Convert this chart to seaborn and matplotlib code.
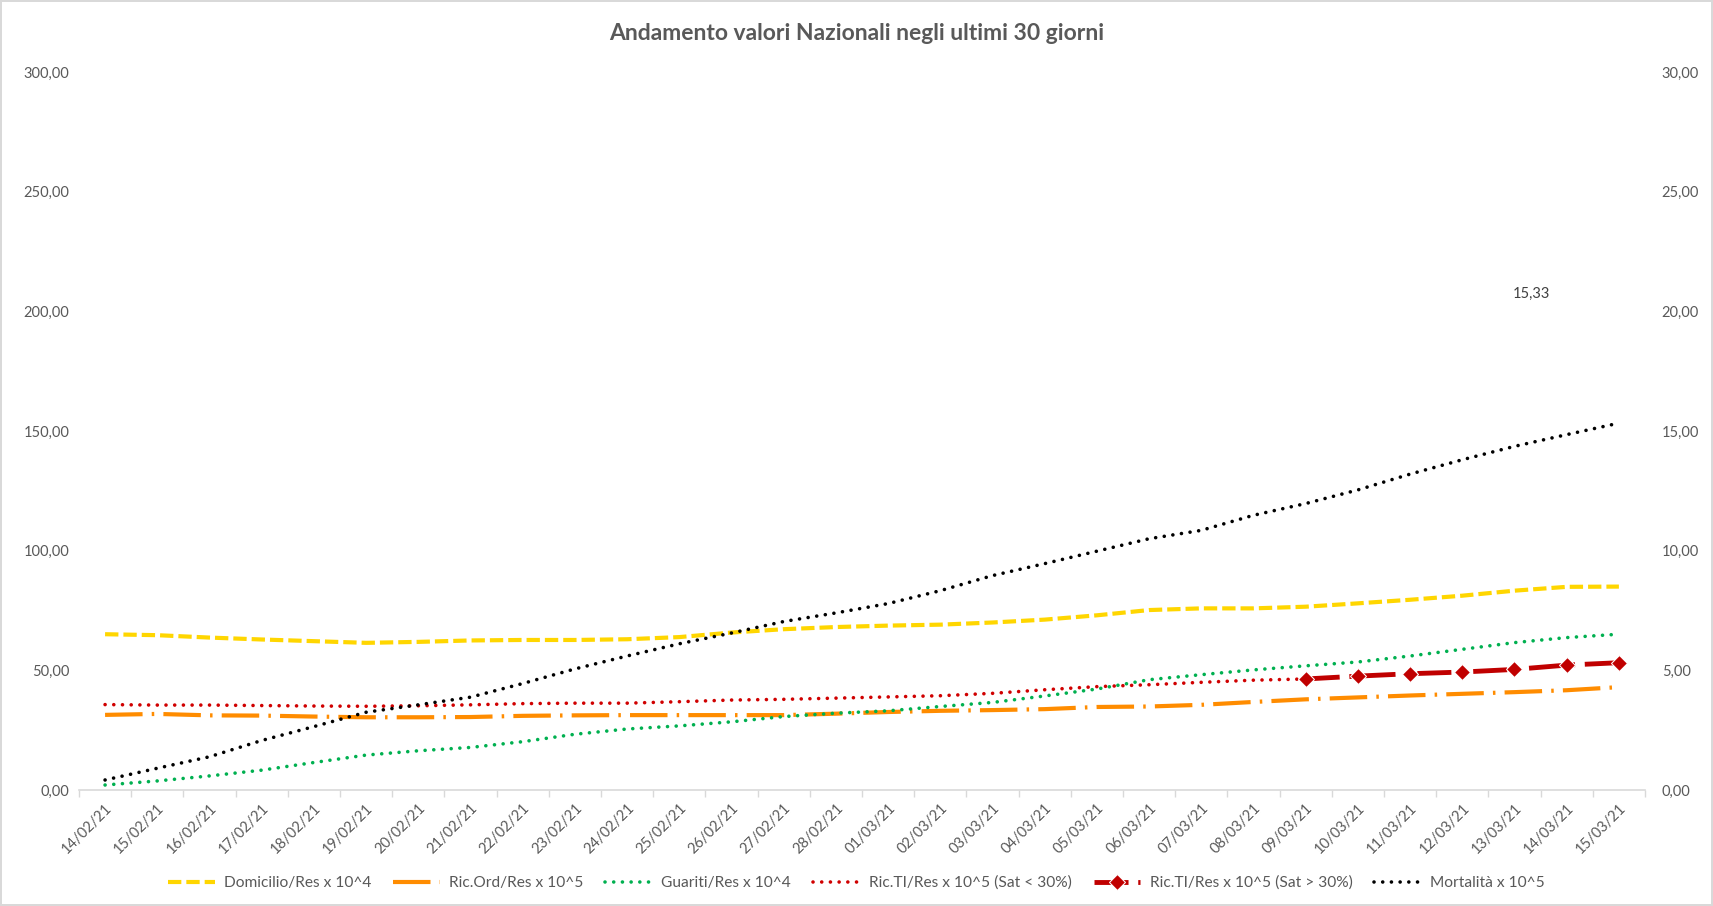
import matplotlib
matplotlib.use("Agg")
import matplotlib.pyplot as plt
from matplotlib.ticker import FuncFormatter, FixedLocator
import seaborn as sns
import pandas as pd
import numpy as np

nan = np.nan

giorni = ["14/02/21", "15/02/21", "16/02/21", "17/02/21", "18/02/21", "19/02/21",
          "20/02/21", "21/02/21", "22/02/21", "23/02/21", "24/02/21", "25/02/21",
          "26/02/21", "27/02/21", "28/02/21", "01/03/21", "02/03/21", "03/03/21",
          "04/03/21", "05/03/21", "06/03/21", "07/03/21", "08/03/21", "09/03/21",
          "10/03/21", "11/03/21", "12/03/21", "13/03/21", "14/03/21", "15/03/21"]

# asse sinistro (0-300)
domicilio = [65.1, 64.7, 63.7, 62.9, 62.2, 61.5, 61.9, 62.5, 62.7, 62.7,
             63.0, 63.9, 65.8, 67.2, 68.1, 68.7, 69.1, 70.0, 71.2, 73.0,
             75.2, 75.9, 75.9, 76.6, 78.0, 79.5, 81.2, 83.3, 84.9, 85.0]
ric_ord = [31.4, 31.8, 31.2, 31.1, 30.7, 30.4, 30.4, 30.5, 31.0, 31.2,
           31.3, 31.3, 31.3, 31.3, 31.9, 32.6, 33.1, 33.4, 33.8, 34.7,
           34.9, 35.6, 36.8, 37.9, 38.7, 39.5, 40.2, 40.9, 41.7, 43.0]
guariti = [2.1, 3.8, 5.9, 8.3, 11.5, 14.6, 16.4, 17.8, 20.2, 23.3,
           25.5, 26.8, 28.5, 30.7, 32.1, 33.1, 34.9, 36.6, 39.3, 42.2,
           46.1, 48.2, 50.2, 51.9, 53.5, 56.0, 58.8, 61.6, 63.7, 65.1]
ric_ti_basso = [35.7, 35.5, 35.5, 35.3, 35.1, 35.0, 35.2, 35.6, 36.1, 36.3,
                36.3, 36.9, 37.6, 37.9, 38.4, 38.9, 39.4, 40.4, 41.9, 43.2,
                44.0, 45.0, 45.9, 46.4, nan, nan, nan, nan, nan, nan]
ric_ti_alto = [nan] * 23 + [46.4, 47.6, 48.6, 49.3, 50.4, 52.2, 53.2]

# asse destro (0-30)
mortalita = [0.42, 0.91, 1.39, 2.07, 2.65, 3.25, 3.56, 3.88, 4.45, 5.06,
             5.60, 6.11, 6.56, 7.04, 7.40, 7.79, 8.33, 8.96, 9.46, 9.98,
             10.50, 10.85, 11.48, 11.97, 12.54, 13.20, 13.80, 14.36, 14.85, 15.33]

GREY = "#595959"
plt.rcParams["font.family"] = ["Lato", "DejaVu Sans"]

df = pd.DataFrame({
    "x": np.arange(len(giorni)),
    "dom": domicilio, "ord": ric_ord, "gua": guariti,
    "ti_b": ric_ti_basso, "ti_a": ric_ti_alto, "mort": mortalita,
})

fig = plt.figure(figsize=(17.13, 9.06), dpi=100)
fig.patch.set_edgecolor("#D9D9D9")
fig.patch.set_linewidth(1.5)
ax = fig.add_axes([0.0461, 0.128, 0.9142, 0.7925])
ax2 = ax.twinx()

dot = (0, (0.01, 2.4))
sns.lineplot(data=df, x="x", y="dom", ax=ax, color="#FFD600", lw=3.0,
             linestyle=(0, (3.2, 1.2)), label="Domicilio/Res x 10^4")
sns.lineplot(data=df, x="x", y="ord", ax=ax, color="#FF8C00", lw=3.0,
             linestyle=(0, (9, 2.2, 0.6, 2.2)), label="Ric.Ord/Res x 10^5")
sns.lineplot(data=df, x="x", y="gua", ax=ax, color="#00B050", lw=2.6,
             linestyle=dot, dash_capstyle="round", label="Guariti/Res x 10^4")
sns.lineplot(data=df, x="x", y="ti_b", ax=ax, color="#D00000", lw=2.6,
             linestyle=dot, dash_capstyle="round", label="Ric.TI/Res x 10^5 (Sat < 30%)")
sns.lineplot(data=df, x="x", y="ti_a", ax=ax, color="#C00000", lw=3.5,
             linestyle=(0, (7, 2, 0.5, 2)), marker="D", markersize=8.5,
             label="Ric.TI/Res x 10^5 (Sat > 30%)")
sns.lineplot(data=df, x="x", y="mort", ax=ax2, color="black", lw=2.6,
             linestyle=dot, dash_capstyle="round", label="Mortalità x 10^5")

h1, l1 = ax.get_legend_handles_labels()
h2, l2 = ax2.get_legend_handles_labels()
for a in (ax, ax2):
    if a.get_legend() is not None:
        a.get_legend().remove()

ax.set_xlim(-0.5, len(giorni) - 0.5)
ax.set_ylim(0, 300)
ax2.set_ylim(0, 30)
ax.set_yticks(np.arange(0, 301, 50))
ax2.set_yticks(np.arange(0, 31, 5))
fmt = FuncFormatter(lambda v, p: f"{v:.2f}".replace(".", ","))
ax.yaxis.set_major_formatter(fmt)
ax2.yaxis.set_major_formatter(fmt)

ax.set_xticks(np.arange(len(giorni)))
ax.set_xticklabels(giorni, rotation=45, ha="right", rotation_mode="anchor")
ax.xaxis.set_minor_locator(FixedLocator(np.arange(-0.5, len(giorni), 1.0)))
ax.tick_params(axis="x", which="major", length=0, pad=8, labelsize=10.5, labelcolor=GREY)
ax.tick_params(axis="x", which="minor", length=5, color="#D9D9D9", width=1)
ax.tick_params(axis="y", length=0, pad=7, labelsize=10.5, labelcolor=GREY)
ax2.tick_params(axis="y", length=0, pad=12, labelsize=10.5, labelcolor=GREY)
ax.set_xlabel("")
ax.set_ylabel("")
ax2.set_ylabel("")

for a in (ax, ax2):
    for s in ("top", "left", "right"):
        a.spines[s].set_visible(False)
    a.spines["bottom"].set_color("#D9D9D9")
    a.spines["bottom"].set_linewidth(1.2)
ax2.spines["bottom"].set_visible(False)

ax2.annotate(f"{mortalita[-1]:.2f}".replace(".", ","),
             xy=(len(giorni) - 1, mortalita[-1]), xytext=(-87, 129),
             textcoords="offset pixels", ha="center", va="center",
             fontsize=10.5, color="#404040")

fig.text(0.5, 1 - 34 / 906, "Andamento valori Nazionali negli ultimi 30 giorni",
         ha="center", va="center", fontsize=16.5, fontweight="bold", color=GREY)

fig.legend(h1 + h2, l1 + l2, loc="center", bbox_to_anchor=(0.5, 1 - 883 / 906),
           ncol=6, frameon=False, fontsize=11.2, handlelength=3.0,
           columnspacing=1.4, handletextpad=0.6, labelcolor=GREY)

fig.savefig("out.png", dpi=100)
